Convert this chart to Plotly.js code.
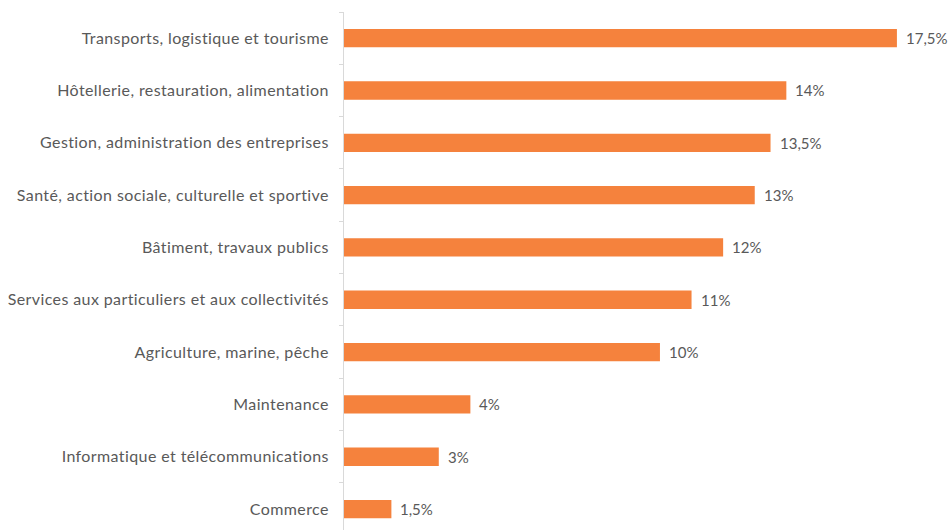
<!DOCTYPE html>
<html>
<head>
<meta charset="utf-8">
<script src="https://cdn.plot.ly/plotly-3.0.1.min.js"></script>
<style>
html,body{margin:0;padding:0;background:#fff;}
#chart{width:950px;height:530px;}
#chart .ytick text{letter-spacing:0.4px;}
</style>
</head>
<body>
<div id="chart"></div>
<script>
const categories = [
  "Transports, logistique et tourisme",
  "Hôtellerie, restauration, alimentation",
  "Gestion, administration des entreprises",
  "Santé, action sociale, culturelle et sportive",
  "Bâtiment, travaux publics",
  "Services aux particuliers et aux collectivités",
  "Agriculture, marine, pêche",
  "Maintenance",
  "Informatique et télécommunications",
  "Commerce"
];
const values = [17.5, 14, 13.5, 13, 12, 11, 10, 4, 3, 1.5];
const valueLabels = values.map(v => String(v).replace('.', ',') + '%');

const trace = {
  type: 'bar',
  orientation: 'h',
  y: categories,
  x: values,
  cliponaxis: false,
  marker: {color: '#F5823D'},
  width: 0.35,
  hoverinfo: 'none'
};

const annotations = categories.map((c, i) => ({
  x: values[i], y: c, xref: 'x', yref: 'y',
  text: valueLabels[i], showarrow: false,
  xanchor: 'left', yanchor: 'middle', xshift: 7, yshift: 0,
  font: {family: 'Lato, sans-serif', size: 15, color: '#595959'}
}));

const layout = {
  width: 950, height: 530,
  margin: {l: 344, r: 0, t: 12, b: 0},
  paper_bgcolor: '#ffffff',
  plot_bgcolor: '#ffffff',
  showlegend: false,
  font: {family: 'Lato, sans-serif', size: 16, color: '#595959'},
  xaxis: {range: [0, 19.18], visible: false, fixedrange: true},
  yaxis: {
    type: 'category',
    range: [9.4, -0.5],
    showline: true, linecolor: '#d9d9d9', linewidth: 1,
    ticks: 'outside', ticklen: 4, tickcolor: '#d9d9d9', tickwidth: 1,
    tickson: 'boundaries',
    showgrid: false, zeroline: false,
    ticklabelstandoff: 11,
    tickfont: {family: 'Lato, sans-serif', size: 16, color: '#595959'}
  },
  annotations: annotations
};

Plotly.newPlot('chart', [trace], layout, {staticPlot: true, displayModeBar: false});
</script>
</body>
</html>
